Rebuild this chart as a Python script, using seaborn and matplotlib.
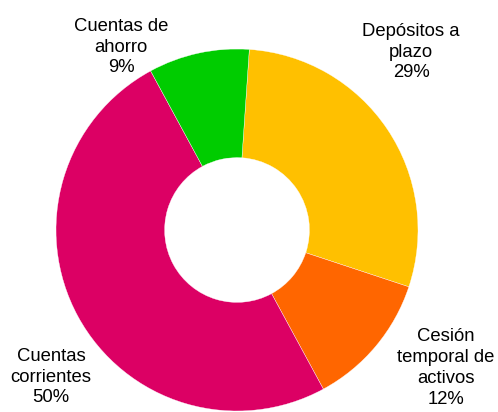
import matplotlib
matplotlib.use('Agg')
import matplotlib.pyplot as plt
import seaborn as sns

categories = ['Depósitos a\nplazo', 'Cesión\ntemporal de\nactivos', 'Cuentas\ncorrientes', 'Cuentas de\nahorro']
shares = [29, 12, 50, 9]
colors = ['#FFC000', '#FF6600', '#DC0064', '#00CC00']
# label centres in pixels (from top-left)
label_pos = [(411, 52), (446, 368), (51, 377), (121, 47)]

sns.set_style('white')
plt.rcParams['font.family'] = ['Liberation Sans', 'DejaVu Sans']

W, H = 498, 412
fig = plt.figure(figsize=(W / 100, H / 100), dpi=100)
ax = fig.add_axes([0, 0, 1, 1])
ax.set_xlim(0, W)
ax.set_ylim(0, H)
ax.set_aspect('equal')
ax.axis('off')

ax.pie(shares, colors=colors, startangle=86.1, counterclock=False,
       radius=181, center=(237, H - 230),
       wedgeprops=dict(width=181 * 0.6, edgecolor='white', linewidth=0.25))

for cat, val, (x, y) in zip(categories, shares, label_pos):
    ax.text(x, H - y, f'{cat}\n{val}%', ha='center', va='center',
            multialignment='center', fontsize=13.3, linespacing=1.3,
            color='black')

ax.set_xlim(0, W)
ax.set_ylim(0, H)
fig.savefig('out.png', dpi=100)
